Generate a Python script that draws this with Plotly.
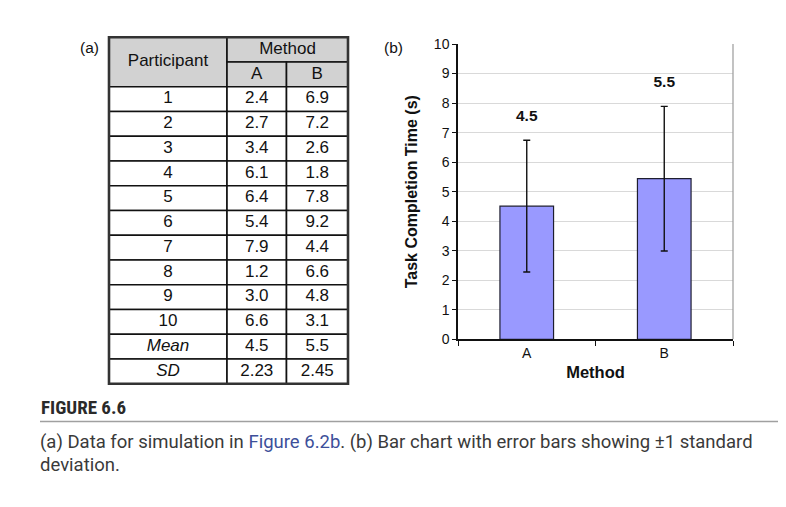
import plotly.graph_objects as go

# table (a)
participants = ["1", "2", "3", "4", "5", "6", "7", "8", "9", "10", "<i>Mean</i>", "<i>SD</i>"]
method_a = ["2.4", "2.7", "3.4", "6.1", "6.4", "5.4", "7.9", "1.2", "3.0", "6.6", "4.5", "2.23"]
method_b = ["6.9", "7.2", "2.6", "1.8", "7.8", "9.2", "4.4", "6.6", "4.8", "3.1", "5.5", "2.45"]

# bar chart (b)
methods = ["A", "B"]
mean_time = [4.51, 5.44]
sd_time = [2.23, 2.45]
mean_labels = ["4.5", "5.5"]

# page body has an 8px margin, so the figure is drawn 8px smaller and every position is shifted
OFF = 8
W, H = 786 - OFF, 507 - OFF


def px(x):
    return (x - OFF) / W


def py(y):
    return 1 - (y - OFF) / H


FONT = "Liberation Sans, Arial, sans-serif"
edges = [0, 118, 177.5, 239]
n_rows = len(participants) + 2

fig = go.Figure()

# ---- bar chart ----
fig.add_trace(go.Bar(
    x=methods, y=mean_time,
    marker=dict(color="#9999ff", line=dict(color="#1e1e30", width=1.2)),
    error_y=dict(type="data", array=sd_time, color="#111", thickness=1.4, width=3.5),
    xaxis="x", yaxis="y", showlegend=False, hoverinfo="skip",
))
fig.add_trace(go.Scatter(
    x=methods, y=[m + s + 0.77 for m, s in zip(mean_time, sd_time)],
    text=["<b>%s</b>" % t for t in mean_labels], mode="text",
    textfont=dict(family=FONT, size=15.5, color="#111"),
    xaxis="x", yaxis="y", showlegend=False, hoverinfo="skip",
))

# ---- table ----
shapes = []
gray = "#d2d2d2"
head_cells = [(0, 1, 0, 2), (1, 3, 0, 1), (1, 2, 1, 2), (2, 3, 1, 2)]
for c0, c1, r0, r1 in head_cells:
    shapes.append(dict(type="rect", xref="x2", yref="y2", x0=edges[c0], x1=edges[c1], y0=r0, y1=r1,
                       fillcolor=gray, line=dict(color="#111", width=1.6), layer="below"))
for r in range(2, n_rows):
    for c in range(3):
        shapes.append(dict(type="rect", xref="x2", yref="y2", x0=edges[c], x1=edges[c + 1], y0=r, y1=r + 1,
                           fillcolor="white", line=dict(color="#111", width=1.6), layer="below"))
shapes.append(dict(type="rect", xref="x2", yref="y2", x0=edges[0], x1=edges[-1], y0=0, y1=n_rows,
                   line=dict(color="#333", width=2.6)))

tx, ty, tt = [], [], []
centers = [(edges[i] + edges[i + 1]) / 2 for i in range(3)]
tx += [centers[0], (edges[1] + edges[3]) / 2, centers[1], centers[2]]
ty += [1, 0.5, 1.5, 1.5]
tt += ["Participant", "Method", "A", "B"]
for i in range(len(participants)):
    for c, col in enumerate([participants, method_a, method_b]):
        tx.append(centers[c])
        ty.append(i + 2.5)
        tt.append(col[i])
fig.add_trace(go.Scatter(
    x=tx, y=ty, text=tt, mode="text",
    textfont=dict(family=FONT, size=17, color="#111"),
    xaxis="x2", yaxis="y2", showlegend=False, hoverinfo="skip", cliponaxis=False,
))

# right border of the bar plot area
shapes.append(dict(type="line", xref="x domain", yref="y", x0=1, x1=1, y0=0, y1=10,
                   line=dict(color="#9a9a9a", width=1.2)))
# caption rule
shapes.append(dict(type="line", xref="paper", yref="paper", x0=px(40), x1=px(778),
                   y0=py(427), y1=py(427), line=dict(color="#a0a0a0", width=1.6)))

pad = 2
x_lo, x_hi = 109, 348
y_top, y_bot = 30, 388
row_px = (y_bot - y_top) / n_rows
unit_px = (x_hi - x_lo) / edges[-1]
fig.update_layout(
    width=W, height=H,
    margin=dict(l=0, r=0, t=0, b=0),
    paper_bgcolor="white", plot_bgcolor="white",
    bargap=0.61,
    shapes=shapes,
    xaxis=dict(domain=[px(458), px(733)], showline=True, linecolor="#111", linewidth=1.5,
               ticks="outside", tickson="boundaries", ticklen=5, tickcolor="#111",
               tickfont=dict(family=FONT, size=14, color="#111"),
               title=dict(text="<b>Method</b>", font=dict(family=FONT, size=16.5, color="#111"), standoff=7)),
    yaxis=dict(domain=[py(342), py(37)], range=[0, 10], dtick=1, showline=True,
               linecolor="#111", linewidth=1.5, ticks="outside", ticklen=4, tickcolor="#111",
               showgrid=True, gridcolor="#d9d9d9", gridwidth=1, zeroline=False,
               tickfont=dict(family=FONT, size=14, color="#111"),
               title=dict(text="<b>Task Completion Time (s)</b>", font=dict(family=FONT, size=16, color="#111"),
                          standoff=12)),
    xaxis2=dict(domain=[px(x_lo - pad), px(x_hi + pad)], range=[-pad / unit_px, edges[-1] + pad / unit_px],
                visible=False, fixedrange=True),
    yaxis2=dict(domain=[py(y_bot + pad), py(y_top - pad)], range=[n_rows + pad / row_px, -pad / row_px],
                visible=False, fixedrange=True),
)

for label, x in [("(a)", 78), ("(b)", 382)]:
    fig.add_annotation(xref="paper", yref="paper", x=px(x), y=py(41), xanchor="left", yanchor="middle",
                       showarrow=False, text=label, font=dict(family=FONT, size=15.5, color="#111"))

fig.add_annotation(xref="paper", yref="paper", x=px(39), y=py(412), xanchor="left", yanchor="middle",
                   showarrow=False, text="<b>FIGURE 6.6</b>",
                   font=dict(family="Roboto Condensed, sans-serif", size=19, color="#2a2a2a"))
CAP = "Roboto, sans-serif"
fig.add_annotation(xref="paper", yref="paper", x=px(38), y=py(448), xanchor="left", yanchor="middle",
                   showarrow=False, align="left",
                   text="(a) Data for simulation in <span style='color:#3d4f9a'>Figure 6.2b</span>. "
                        "(b) Bar chart with error bars showing \u00b11 standard",
                   font=dict(family=CAP, size=18.5, color="#3a3a3a"))
fig.add_annotation(xref="paper", yref="paper", x=px(38), y=py(472), xanchor="left", yanchor="middle",
                   showarrow=False, text="deviation.", font=dict(family=CAP, size=18.5, color="#3a3a3a"))

fig.write_html("out.html")
